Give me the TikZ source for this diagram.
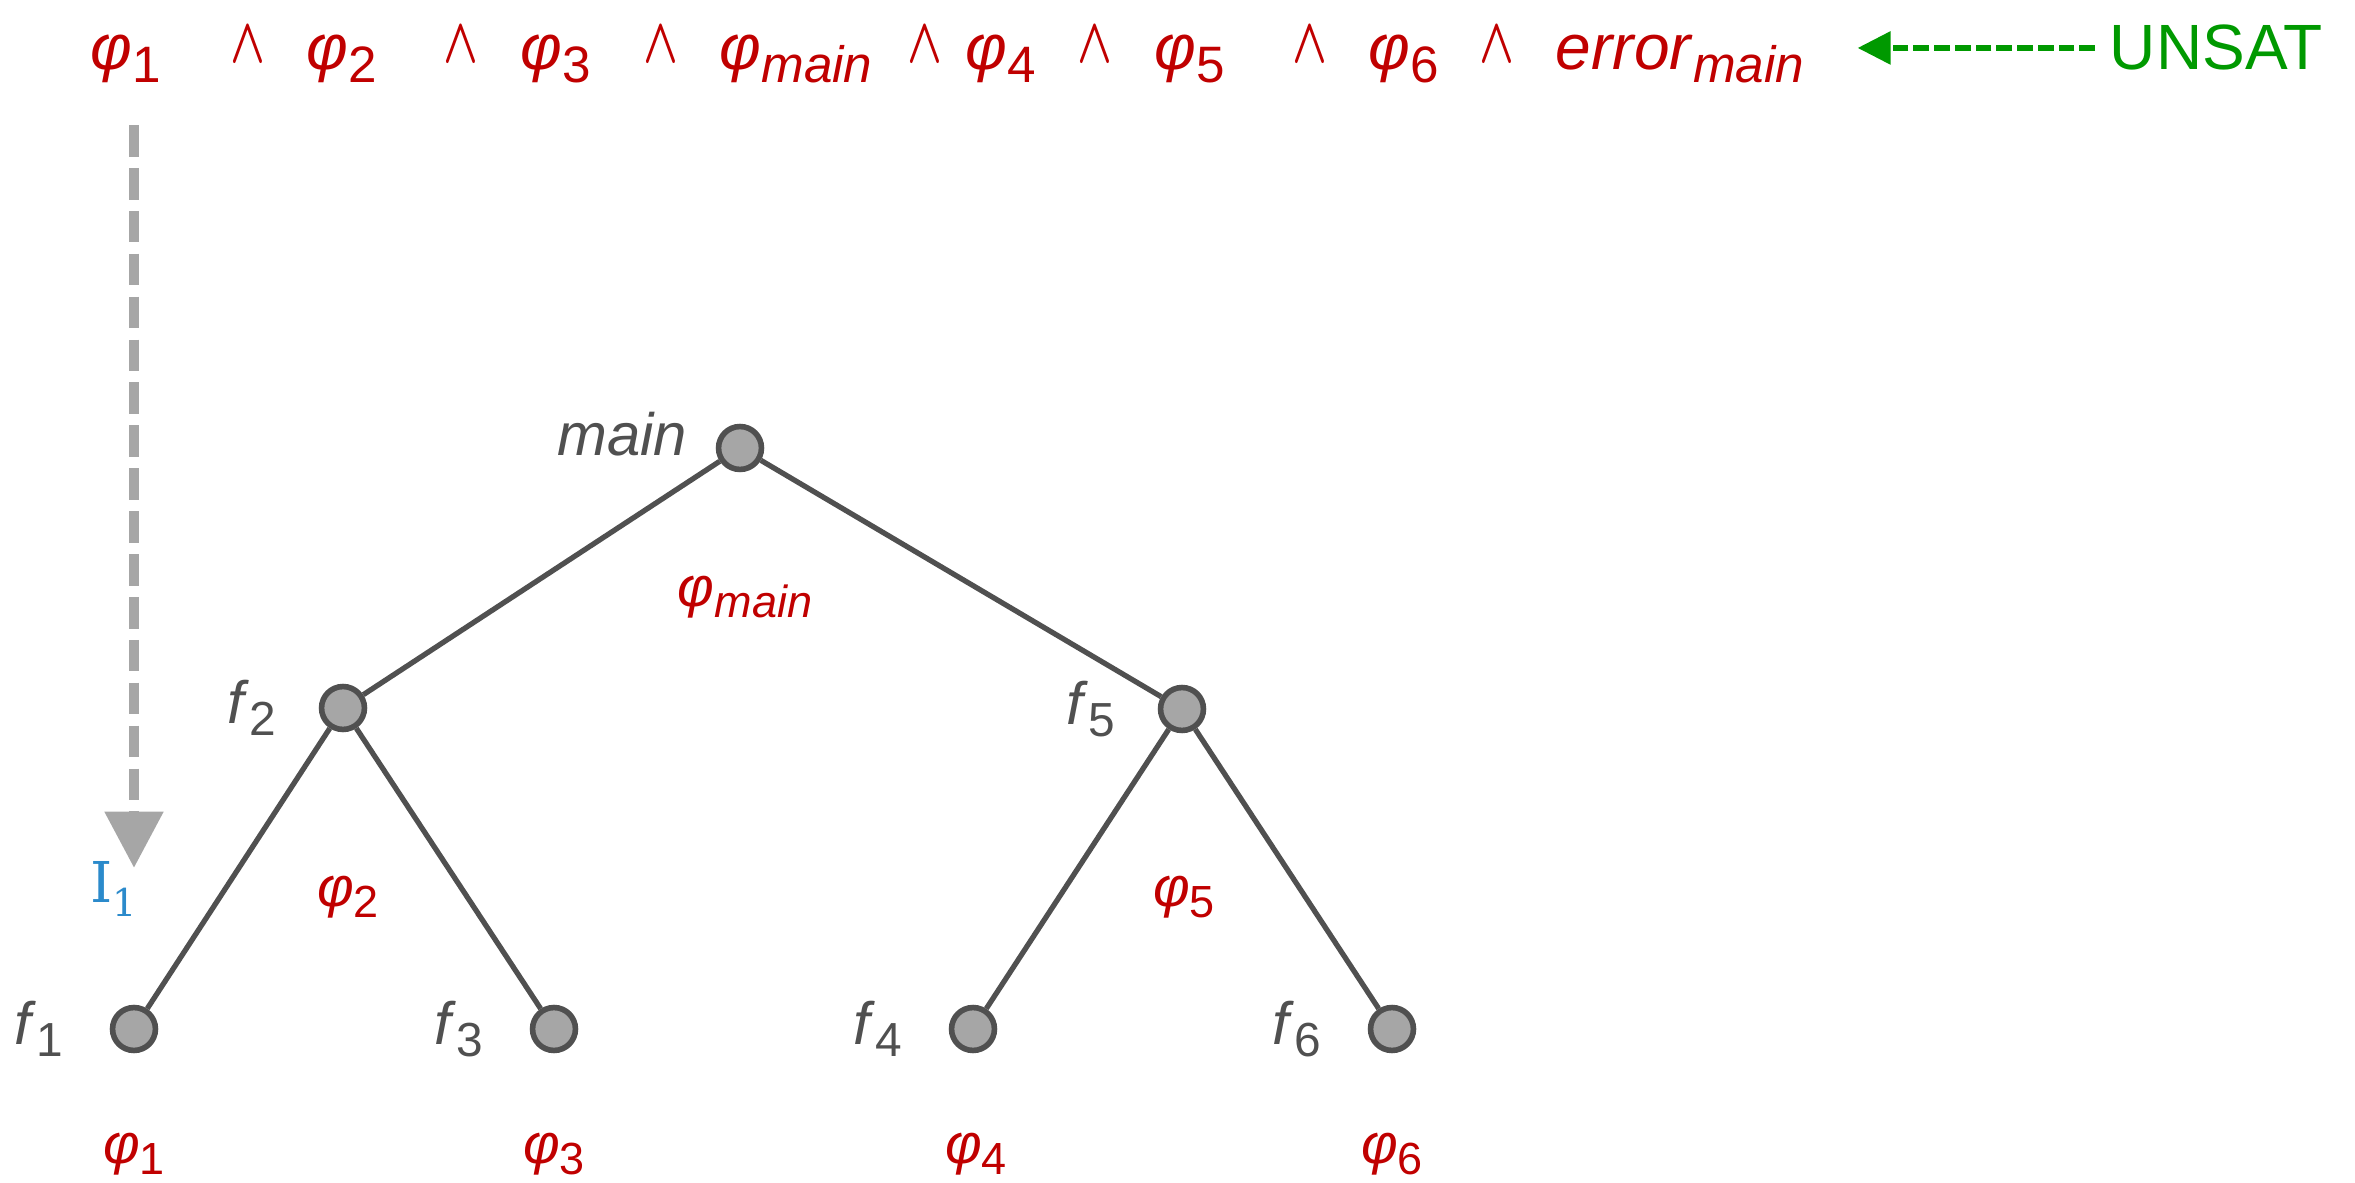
\documentclass[tikz,border=0pt]{standalone}
\usepackage{fontspec}
\setmainfont{Liberation Sans}
\newfontfamily\itpfont{DejaVu Serif}
\usepackage{graphicx}
\usetikzlibrary{arrows.meta,positioning}

\definecolor{phired}{HTML}{C00000}
\definecolor{labgray}{HTML}{505050}
\definecolor{edgegray}{HTML}{505050}
\definecolor{nodefill}{HTML}{A6A6A6}
\definecolor{arrowgray}{HTML}{A6A6A6}
\definecolor{itpblue}{HTML}{2B8ACB}
\definecolor{unsatgreen}{HTML}{009900}

\newcommand{\ph}{\textit{φ}}
\newcommand{\lsub}[1]{\raisebox{-0.2em}{\scalebox{0.8}{#1}}}
\newcommand{\conjsym}{\scalebox{0.75}[1.05]{\boldmath$\wedge$}}

\begin{document}
\begin{tikzpicture}[
  x=0.01cm, y=-0.01cm,
  fn/.style={circle,draw=edgegray,fill=nodefill,line width=1.6pt,
             minimum size=12.2pt,inner sep=0pt},
  edge/.style={draw=edgegray,line width=1.5pt},
  fname/.style={text=labgray,font=\fontsize{17}{18}\selectfont,inner sep=0pt},
  phi/.style={text=phired,font=\fontsize{18.2}{20}\selectfont,inner sep=0pt},
  summ/.style={text=phired,font=\fontsize{16}{18}\selectfont,inner sep=0pt},
  conj/.style={text=phired,font=\fontsize{17.28}{20}\selectfont,
               inner sep=0pt,anchor=base},
  callarrow/.style={draw=arrowgray,line width=3pt,dash pattern=on 9pt off 3.2pt,
                    -{Triangle[length=16pt,width=16pt]}},
  unsatarrow/.style={draw=unsatgreen,line width=1.7pt,dash pattern=on 4.5pt off 1.4pt,
                     -{Triangle[length=9.4pt,width=9.1pt]}},
]
  \useasboundingbox (0,0) rectangle (2355,1183);

  % Formula along the top
  \node[phi,anchor=base] (p1)    at (126,70)  {\ph\lsub{1}};
  \node[conj]            (w1)    at (248,63)  {\conjsym};
  \node[phi,anchor=base] (p2)    at (342,70)  {\ph\lsub{2}};
  \node[conj]            (w2)    at (461,63)  {\conjsym};
  \node[phi,anchor=base] (p3)    at (556,70)  {\ph\lsub{3}};
  \node[conj]            (w3)    at (661,63)  {\conjsym};
  \node[phi,anchor=base] (pmain) at (796,70)  {\ph\lsub{\textit{main}}};
  \node[conj]            (w4)    at (925,63)  {\conjsym};
  \node[phi,anchor=base] (p4)    at (1001,70) {\ph\lsub{4}};
  \node[conj]            (w5)    at (1095,63) {\conjsym};
  \node[phi,anchor=base] (p5)    at (1190,70) {\ph\lsub{5}};
  \node[conj]            (w6)    at (1310,63) {\conjsym};
  \node[phi,anchor=base] (p6)    at (1404,70) {\ph\lsub{6}};
  \node[conj]            (w7)    at (1497,63) {\conjsym};
  \node[phi,anchor=base] (err)   at (1680,70) {\textit{error}\lsub{\textit{main}}};
  \node[phi,anchor=base,text=unsatgreen] (unsat) at (2216,70) {UNSAT};

  % Solver answer
  \draw[unsatarrow,shorten >=15pt,shorten <=4pt] (unsat.west) -- (unsat.west -| err.east);

  % Call tree
  \node[fn] (nmain) at (740,448)  {};
  \node[fn] (nf2)   at (343,708)  {};
  \node[fn] (nf5)   at (1182,709) {};
  \node[fn] (nf1)   at (134,1029) {};
  \node[fn] (nf3)   at (554,1029) {};
  \node[fn] (nf4)   at (973,1029) {};
  \node[fn] (nf6)   at (1392,1029) {};

  \draw[edge] (nmain) -- (nf2);
  \draw[edge] (nmain) -- (nf5);
  \draw[edge] (nf2) -- (nf1);
  \draw[edge] (nf2) -- (nf3);
  \draw[edge] (nf5) -- (nf4);
  \draw[edge] (nf5) -- (nf6);

  % Function names
  \node[fname,left=8pt of nmain,yshift=4pt] (lmain) {\textit{main}};
  \node[fname,left=12pt of nf2] (lf2) {\textit{f}\lsub{2}};
  \node[fname,left=12pt of nf5] (lf5) {\textit{f}\lsub{5}};
  \node[fname,left=13pt of nf1] (lf1) {\textit{f}\lsub{1}};
  \node[fname,left=13pt of nf3] (lf3) {\textit{f}\lsub{3}};
  \node[fname,left=13pt of nf4] (lf4) {\textit{f}\lsub{4}};
  \node[fname,left=13pt of nf6] (lf6) {\textit{f}\lsub{6}};

  % Function summaries
  \node[summ] (smain) at (745,597)  {\ph\lsub{\textit{main}}};
  \node[summ] (s2)    at (348,897)  {\ph\lsub{2}};
  \node[summ] (s5)    at (1184,897) {\ph\lsub{5}};
  \node[summ] (s1)    at (134,1154) {\ph\lsub{1}};
  \node[summ] (s3)    at (554,1154) {\ph\lsub{3}};
  \node[summ] (s4)    at (976,1154) {\ph\lsub{4}};
  \node[summ] (s6)    at (1392,1154) {\ph\lsub{6}};

  % Interpolant
  \coordinate (itop) at (134,125);
  \coordinate (ibot) at (134,868);
  \draw[callarrow] (itop) -- (ibot);
  \node[text=itpblue,font=\fontsize{16}{18}\selectfont\itpfont,inner sep=0pt] (itp)
    at (114,889) {I\raisebox{-0.25em}{\scalebox{0.68}{1}}};
\end{tikzpicture}
\end{document}
